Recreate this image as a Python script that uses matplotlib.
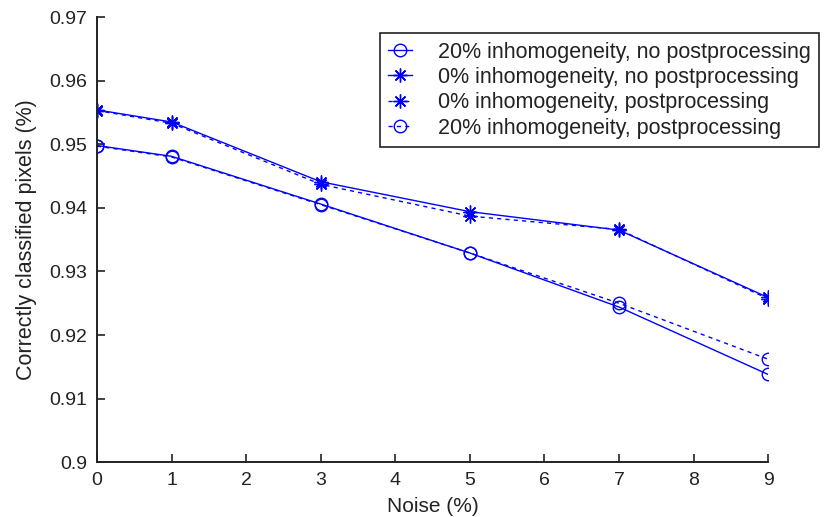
import matplotlib
matplotlib.use('Agg')
import matplotlib.pyplot as plt

plt.rcParams['font.family'] = ['Liberation Sans', 'DejaVu Sans']

noise = [0, 1, 3, 5, 7, 9]
inh20_nopost = [0.9498, 0.9481, 0.9406, 0.9329, 0.9244, 0.9138]
inh0_nopost = [0.9554, 0.9535, 0.9441, 0.9394, 0.9365, 0.9259]
inh0_post = [0.9553, 0.9533, 0.9437, 0.9387, 0.9366, 0.9257]
inh20_post = [0.9497, 0.9480, 0.9405, 0.9329, 0.9250, 0.9162]

labels = ['20% inhomogeneity, no postprocessing',
          '0% inhomogeneity, no postprocessing',
          '0% inhomogeneity, postprocessing',
          '20% inhomogeneity, postprocessing']

fig = plt.figure(figsize=(8.25, 5.17), dpi=100)
ax = fig.add_axes([0.1176, 0.106, 0.8134, 0.861])

blue = '#0000ff'
dark = '#222222'
star = (8, 2, 0)
ax.plot(noise, inh20_nopost, '-', color=blue, marker='o', mfc='none', ms=9, lw=1, mew=1, label=labels[0])
ax.plot(noise, inh0_nopost, '-', color=blue, marker=star, ms=10, lw=1, mew=1, label=labels[1])
ax.plot(noise, inh0_post, '--', color=blue, marker=star, ms=10, lw=1, mew=1, dashes=(3, 3), label=labels[2])
ax.plot(noise, inh20_post, '--', color=blue, marker='o', mfc='none', ms=9, lw=1, mew=1, dashes=(3, 3), label=labels[3])

ax.set_xlim(0, 9)
ax.set_ylim(0.9, 0.97)
ax.set_xticks(range(10))
ax.set_yticks([0.9, 0.91, 0.92, 0.93, 0.94, 0.95, 0.96, 0.97])
ax.set_yticklabels(['0.9', '0.91', '0.92', '0.93', '0.94', '0.95', '0.96', '0.97'])
for s in ['top', 'right']:
    ax.spines[s].set_visible(False)
for s in ['left', 'bottom']:
    ax.spines[s].set_linewidth(1.4)
    ax.spines[s].set_color(dark)
ax.tick_params(direction='in', length=6, width=1.2, color=dark, labelcolor=dark, labelsize=14, pad=7)
ax.set_xlabel('Noise (%)', fontsize=15, labelpad=6, color=dark)
ax.set_ylabel('Correctly classified pixels (%)', fontsize=15.5, labelpad=9, color=dark)

leg = ax.legend(loc='upper right', bbox_to_anchor=(0.993, 0.936), bbox_transform=fig.transFigure,
                fontsize=15.5, fancybox=False, framealpha=1, edgecolor=dark,
                handlelength=1.1, borderaxespad=0, borderpad=0.4,
                labelspacing=0.2, handletextpad=1.2)
leg.get_frame().set_linewidth(1.2)
for t in leg.get_texts():
    t.set_color(dark)

fig.savefig('out.png', dpi=100)
